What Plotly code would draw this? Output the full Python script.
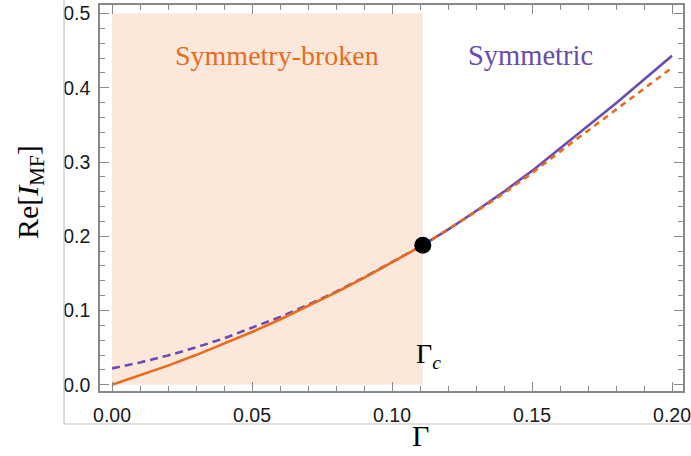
import plotly.graph_objects as go

# ---- data ----
gamma_c = 0.111
ire_c = 0.188

# symmetry-broken branch (orange)
gamma_broken_lo = [0.0, 0.01, 0.02, 0.03, 0.04, 0.05, 0.06, 0.07, 0.08, 0.09, 0.10, 0.111]
re_broken_lo = [0.0, 0.0124, 0.0257, 0.0399, 0.0550, 0.0710, 0.0879, 0.1057, 0.1243, 0.1439, 0.1650, 0.188]
gamma_broken_hi = [0.111, 0.12, 0.13, 0.14, 0.15, 0.16, 0.17, 0.18, 0.19, 0.20]
re_broken_hi = [0.188, 0.209, 0.233, 0.258, 0.285, 0.314, 0.342, 0.371, 0.399, 0.427]

# symmetric branch (purple)
gamma_sym_lo = [0.0, 0.01, 0.02, 0.03, 0.04, 0.05, 0.06, 0.07, 0.08, 0.09, 0.10, 0.111]
re_sym_lo = [0.022, 0.0300, 0.0394, 0.0502, 0.0624, 0.0765, 0.0912, 0.1075, 0.1252, 0.1445, 0.1655, 0.188]
gamma_sym_hi = [0.111, 0.12, 0.13, 0.14, 0.15, 0.16, 0.17, 0.18, 0.19, 0.20]
re_sym_hi = [0.188, 0.209, 0.234, 0.260, 0.288, 0.318, 0.348, 0.379, 0.411, 0.443]

x_ticks = [0.0, 0.05, 0.10, 0.15, 0.20]
y_ticks = [0.0, 0.1, 0.2, 0.3, 0.4, 0.5]

ORANGE = "#EC6A1C"
PURPLE = "#6A4BAF"
SHADE = "#FBE8DB"
AXIS = "#8a8a8a"
SERIF = "Liberation Serif"

fig = go.Figure()

# shaded symmetry-broken region
fig.add_shape(type="rect", xref="x", yref="y", x0=0, x1=gamma_c, y0=0, y1=0.5,
              fillcolor=SHADE, line_width=0, layer="below")

# purple first, orange on top
fig.add_trace(go.Scatter(x=gamma_sym_lo, y=re_sym_lo, mode="lines",
                         line=dict(color=PURPLE, width=2.6, dash="8px,5px"), showlegend=False))
fig.add_trace(go.Scatter(x=gamma_sym_hi, y=re_sym_hi, mode="lines",
                         line=dict(color=PURPLE, width=2.6), showlegend=False))
fig.add_trace(go.Scatter(x=gamma_broken_lo, y=re_broken_lo, mode="lines",
                         line=dict(color=ORANGE, width=2.6), showlegend=False))
fig.add_trace(go.Scatter(x=gamma_broken_hi, y=re_broken_hi, mode="lines",
                         line=dict(color=ORANGE, width=2.6, dash="6px,5px"), showlegend=False))
fig.add_trace(go.Scatter(x=[gamma_c], y=[ire_c], mode="markers",
                         marker=dict(color="black", size=17), showlegend=False))

# region labels
fig.add_annotation(x=0.0589, y=0.444, xref="x", yref="y", text="Symmetry-broken",
                   xanchor="center", yanchor="middle",
                   showarrow=False, font=dict(family=SERIF, size=28, color=ORANGE))
fig.add_annotation(x=0.1493, y=0.444, xref="x", yref="y", text="Symmetric",
                   xanchor="center", yanchor="middle",
                   showarrow=False, font=dict(family=SERIF, size=28.5, color=PURPLE))
fig.add_annotation(x=0.1129, y=0.040, xref="x", yref="y", text="Γ<sub><i>c</i></sub>",
                   xanchor="center", yanchor="middle",
                   showarrow=False, font=dict(family=SERIF, size=28, color="black"))

# axis titles
fig.add_annotation(x=0.549, y=-0.114, xref="paper", yref="paper", text="Γ",
                   xanchor="center", yanchor="middle",
                   showarrow=False, font=dict(family=SERIF, size=30, color="black"))
fig.add_annotation(x=-0.12, y=0.5155, xref="paper", yref="paper",
                   text="Re[<i>I</i><sub>MF</sub>]", textangle=-90,
                   xanchor="center", yanchor="middle",
                   showarrow=False, font=dict(family=SERIF, size=30, color="black"))

# outer light border (image frame)
fig.add_shape(type="line", xref="paper", yref="paper", x0=-0.0617, x1=-0.0617, y0=-0.0855, y1=1.02,
              line=dict(color="#c4c4c4", width=1.2))
fig.add_shape(type="line", xref="paper", yref="paper", x0=-0.0617, x1=1.02, y0=-0.0855, y1=-0.0855,
              line=dict(color="#c4c4c4", width=1.2))

tickfont = dict(family="Liberation Sans", size=19.5, color="#1a1a1a")
common = dict(showgrid=False, zeroline=False, showline=True, linecolor=AXIS, linewidth=1.6,
              mirror="allticks", ticks="inside", ticklen=9, tickwidth=1.3, tickcolor=AXIS,
              tickfont=tickfont, automargin=False, ticklabeloverflow="allow")

fig.update_xaxes(range=[-0.00429, 0.20393], tickvals=x_ticks, tickformat=".2f",
                 minor=dict(dtick=0.01, ticks="inside", ticklen=5, tickwidth=1.2, tickcolor=AXIS),
                 ticklabelstandoff=6, **common)
fig.update_yaxes(range=[-0.00849, 0.5115], tickvals=y_ticks, tickformat=".1f",
                 minor=dict(dtick=0.02, ticks="inside", ticklen=5, tickwidth=1.2, tickcolor=AXIS),
                 ticklabelstandoff=4, **common)

fig.update_layout(width=691, height=456, margin=dict(l=100, r=8, t=5, b=65),
                  plot_bgcolor="white", paper_bgcolor="white")

fig.write_html("out.html", config={"displayModeBar": False},
               post_script="document.body.style.margin='0px';document.body.style.padding='0px';")
